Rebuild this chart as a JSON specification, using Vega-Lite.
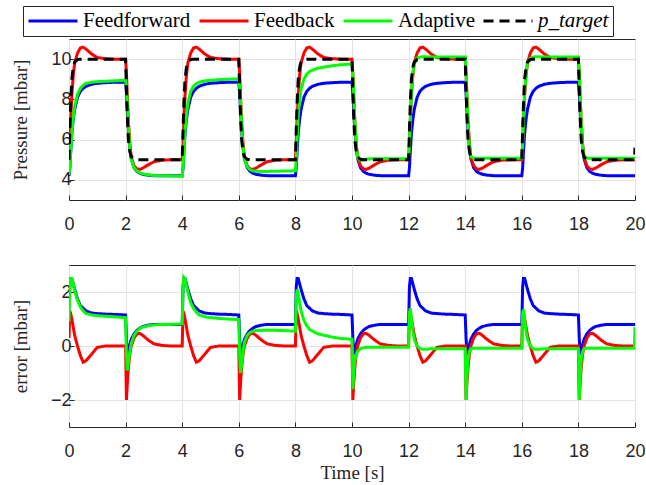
{
"$schema": "https://vega.github.io/schema/vega-lite/v6.json",
"padding": {"left": 10, "top": 5, "right": 0, "bottom": 0},
"bounds": "flush",
"spacing": 65,
"background": "white",
"config": {
 "view": {"stroke": "#262626", "strokeWidth": 1},
 "axis": {"grid": true, "gridColor": "#e3e3e3", "gridWidth": 1, "domain": false, "tickColor": "#262626", "tickSize": -5, "labelFont": "Liberation Sans", "labelFontSize": 18, "labelColor": "#262626", "titleFont": "Liberation Serif", "titleFontSize": 19, "titleFontWeight": "normal", "titleColor": "#262626"},
 "axisX": {"labelPadding": 20, "titlePadding": 3, "labelFlush": false},
 "axisY": {"labelPadding": 3, "titlePadding": 20},
 "legend": {"orient": "none", "legendX": -46, "legendY": -33, "direction": "horizontal", "strokeColor": "#262626", "fillColor": "white", "padding": 4, "symbolType": "stroke", "symbolSize": 2401, "clipHeight": 22, "symbolStrokeWidth": 2, "labelFont": "Liberation Serif", "labelFontSize": 21, "labelColor": "#000000", "columnPadding": 7, "labelOffset": 4, "title": null}
},
"datasets": {
"press": [
{"t":0,"FF":4.2,"FB":5.0,"AD":4.25,"PT":5.0},
{"t":0.03,"FF":4.6,"FB":5.8,"AD":4.6,"PT":6.5},
{"t":0.06,"FF":5.4,"FB":7.0,"AD":5.4,"PT":7.8},
{"t":0.1,"FF":6.3,"FB":8.2,"AD":6.3,"PT":9.0},
{"t":0.15,"FF":7.0,"FB":9.2,"AD":7.1,"PT":9.6},
{"t":0.2,"FF":7.5,"FB":9.8,"AD":7.65,"PT":9.85},
{"t":0.3,"FF":8.1,"FB":10.3,"AD":8.25,"PT":9.98},
{"t":0.4,"FF":8.4,"FB":10.55,"AD":8.55,"PT":10},
{"t":0.5,"FF":8.55,"FB":10.6,"AD":8.7,"PT":10},
{"t":0.6,"FF":8.65,"FB":10.5,"AD":8.8,"PT":10},
{"t":0.8,"FF":8.75,"FB":10.25,"AD":8.85,"PT":10},
{"t":1.0,"FF":8.8,"FB":10.08,"AD":8.88,"PT":10},
{"t":1.3,"FF":8.83,"FB":10.02,"AD":8.9,"PT":10},
{"t":1.6,"FF":8.85,"FB":10.0,"AD":8.92,"PT":10},
{"t":1.98,"FF":8.85,"FB":10.0,"AD":8.95,"PT":10},
{"t":2,"FF":8.85,"FB":10.0,"AD":8.95,"PT":10},
{"t":2.03,"FF":8.3,"FB":9.3,"AD":8.6,"PT":8.5},
{"t":2.06,"FF":7.5,"FB":8.2,"AD":7.9,"PT":7.2},
{"t":2.1,"FF":6.5,"FB":6.9,"AD":6.7,"PT":6.0},
{"t":2.15,"FF":5.6,"FB":5.8,"AD":5.6,"PT":5.4},
{"t":2.2,"FF":5.05,"FB":5.1,"AD":5.0,"PT":5.15},
{"t":2.3,"FF":4.6,"FB":4.7,"AD":4.6,"PT":5.02},
{"t":2.4,"FF":4.42,"FB":4.55,"AD":4.45,"PT":5},
{"t":2.5,"FF":4.33,"FB":4.52,"AD":4.35,"PT":5},
{"t":2.6,"FF":4.28,"FB":4.58,"AD":4.3,"PT":5},
{"t":2.8,"FF":4.23,"FB":4.75,"AD":4.25,"PT":5},
{"t":3.0,"FF":4.21,"FB":4.9,"AD":4.22,"PT":5},
{"t":3.3,"FF":4.2,"FB":4.98,"AD":4.2,"PT":5},
{"t":3.6,"FF":4.2,"FB":5.0,"AD":4.2,"PT":5},
{"t":3.98,"FF":4.2,"FB":5.0,"AD":4.18,"PT":5},
{"t":4,"FF":4.2,"FB":5.0,"AD":4.18,"PT":5.0},
{"t":4.03,"FF":4.6,"FB":5.8,"AD":4.6,"PT":6.5},
{"t":4.06,"FF":5.4,"FB":7.0,"AD":5.4,"PT":7.8},
{"t":4.1,"FF":6.3,"FB":8.2,"AD":6.4,"PT":9.0},
{"t":4.15,"FF":7.0,"FB":9.2,"AD":7.2,"PT":9.6},
{"t":4.2,"FF":7.5,"FB":9.8,"AD":7.8,"PT":9.85},
{"t":4.3,"FF":8.1,"FB":10.3,"AD":8.4,"PT":9.98},
{"t":4.4,"FF":8.4,"FB":10.55,"AD":8.65,"PT":10},
{"t":4.5,"FF":8.55,"FB":10.6,"AD":8.78,"PT":10},
{"t":4.6,"FF":8.65,"FB":10.5,"AD":8.85,"PT":10},
{"t":4.8,"FF":8.75,"FB":10.25,"AD":8.92,"PT":10},
{"t":5.0,"FF":8.8,"FB":10.08,"AD":8.95,"PT":10},
{"t":5.3,"FF":8.83,"FB":10.02,"AD":8.98,"PT":10},
{"t":5.6,"FF":8.85,"FB":10.0,"AD":9.0,"PT":10},
{"t":5.98,"FF":8.85,"FB":10.0,"AD":9.02,"PT":10},
{"t":6,"FF":8.85,"FB":10.0,"AD":9.02,"PT":10},
{"t":6.03,"FF":8.3,"FB":9.3,"AD":8.6,"PT":8.5},
{"t":6.06,"FF":7.5,"FB":8.2,"AD":7.9,"PT":7.2},
{"t":6.1,"FF":6.5,"FB":6.9,"AD":6.7,"PT":6.0},
{"t":6.15,"FF":5.6,"FB":5.8,"AD":5.6,"PT":5.4},
{"t":6.2,"FF":5.05,"FB":5.1,"AD":5.0,"PT":5.15},
{"t":6.3,"FF":4.6,"FB":4.7,"AD":4.65,"PT":5.02},
{"t":6.4,"FF":4.42,"FB":4.55,"AD":4.5,"PT":5},
{"t":6.5,"FF":4.33,"FB":4.52,"AD":4.45,"PT":5},
{"t":6.6,"FF":4.28,"FB":4.58,"AD":4.43,"PT":5},
{"t":6.8,"FF":4.23,"FB":4.75,"AD":4.42,"PT":5},
{"t":7.0,"FF":4.21,"FB":4.9,"AD":4.42,"PT":5},
{"t":7.3,"FF":4.2,"FB":4.98,"AD":4.43,"PT":5},
{"t":7.6,"FF":4.2,"FB":5.0,"AD":4.44,"PT":5},
{"t":7.98,"FF":4.2,"FB":5.0,"AD":4.45,"PT":5},
{"t":8,"FF":4.2,"FB":5.0,"AD":4.45,"PT":5.0},
{"t":8.03,"FF":4.6,"FB":5.8,"AD":5.0,"PT":6.5},
{"t":8.06,"FF":5.4,"FB":7.0,"AD":6.0,"PT":7.8},
{"t":8.1,"FF":6.3,"FB":8.2,"AD":7.2,"PT":9.0},
{"t":8.15,"FF":7.0,"FB":9.2,"AD":8.0,"PT":9.6},
{"t":8.2,"FF":7.5,"FB":9.8,"AD":8.5,"PT":9.85},
{"t":8.3,"FF":8.1,"FB":10.3,"AD":9.0,"PT":9.98},
{"t":8.4,"FF":8.4,"FB":10.55,"AD":9.25,"PT":10},
{"t":8.5,"FF":8.55,"FB":10.6,"AD":9.38,"PT":10},
{"t":8.6,"FF":8.65,"FB":10.5,"AD":9.45,"PT":10},
{"t":8.8,"FF":8.75,"FB":10.25,"AD":9.55,"PT":10},
{"t":9.0,"FF":8.8,"FB":10.08,"AD":9.6,"PT":10},
{"t":9.3,"FF":8.83,"FB":10.02,"AD":9.67,"PT":10},
{"t":9.6,"FF":8.85,"FB":10.0,"AD":9.72,"PT":10},
{"t":9.98,"FF":8.85,"FB":10.0,"AD":9.75,"PT":10},
{"t":10,"FF":8.85,"FB":10.0,"AD":9.75,"PT":10},
{"t":10.03,"FF":8.3,"FB":9.3,"AD":9.2,"PT":8.5},
{"t":10.06,"FF":7.5,"FB":8.2,"AD":8.3,"PT":7.2},
{"t":10.1,"FF":6.5,"FB":6.9,"AD":6.9,"PT":6.0},
{"t":10.15,"FF":5.6,"FB":5.8,"AD":5.7,"PT":5.4},
{"t":10.2,"FF":5.05,"FB":5.1,"AD":5.1,"PT":5.15},
{"t":10.3,"FF":4.6,"FB":4.7,"AD":4.95,"PT":5.02},
{"t":10.4,"FF":4.42,"FB":4.55,"AD":5.0,"PT":5},
{"t":10.5,"FF":4.33,"FB":4.52,"AD":5.03,"PT":5},
{"t":10.6,"FF":4.28,"FB":4.58,"AD":5.04,"PT":5},
{"t":10.8,"FF":4.23,"FB":4.75,"AD":5.05,"PT":5},
{"t":11.0,"FF":4.21,"FB":4.9,"AD":5.05,"PT":5},
{"t":11.3,"FF":4.2,"FB":4.98,"AD":5.05,"PT":5},
{"t":11.6,"FF":4.2,"FB":5.0,"AD":5.05,"PT":5},
{"t":11.98,"FF":4.2,"FB":5.0,"AD":5.05,"PT":5},
{"t":12,"FF":4.2,"FB":5.0,"AD":5.05,"PT":5.0},
{"t":12.03,"FF":4.6,"FB":5.8,"AD":5.8,"PT":6.5},
{"t":12.06,"FF":5.4,"FB":7.0,"AD":7.0,"PT":7.8},
{"t":12.1,"FF":6.3,"FB":8.2,"AD":8.3,"PT":9.0},
{"t":12.15,"FF":7.0,"FB":9.2,"AD":9.3,"PT":9.6},
{"t":12.2,"FF":7.5,"FB":9.8,"AD":9.8,"PT":9.85},
{"t":12.3,"FF":8.1,"FB":10.3,"AD":10.05,"PT":9.98},
{"t":12.4,"FF":8.4,"FB":10.55,"AD":10.1,"PT":10},
{"t":12.5,"FF":8.55,"FB":10.6,"AD":10.12,"PT":10},
{"t":12.6,"FF":8.65,"FB":10.5,"AD":10.12,"PT":10},
{"t":12.8,"FF":8.75,"FB":10.25,"AD":10.1,"PT":10},
{"t":13.0,"FF":8.8,"FB":10.08,"AD":10.1,"PT":10},
{"t":13.3,"FF":8.83,"FB":10.02,"AD":10.1,"PT":10},
{"t":13.6,"FF":8.85,"FB":10.0,"AD":10.1,"PT":10},
{"t":13.98,"FF":8.85,"FB":10.0,"AD":10.1,"PT":10},
{"t":14,"FF":8.85,"FB":10.0,"AD":10.1,"PT":10},
{"t":14.03,"FF":8.3,"FB":9.3,"AD":9.4,"PT":8.5},
{"t":14.06,"FF":7.5,"FB":8.2,"AD":8.2,"PT":7.2},
{"t":14.1,"FF":6.5,"FB":6.9,"AD":6.8,"PT":6.0},
{"t":14.15,"FF":5.6,"FB":5.8,"AD":5.6,"PT":5.4},
{"t":14.2,"FF":5.05,"FB":5.1,"AD":5.15,"PT":5.15},
{"t":14.3,"FF":4.6,"FB":4.7,"AD":5.08,"PT":5.02},
{"t":14.4,"FF":4.42,"FB":4.55,"AD":5.08,"PT":5},
{"t":14.5,"FF":4.33,"FB":4.52,"AD":5.08,"PT":5},
{"t":14.6,"FF":4.28,"FB":4.58,"AD":5.08,"PT":5},
{"t":14.8,"FF":4.23,"FB":4.75,"AD":5.08,"PT":5},
{"t":15.0,"FF":4.21,"FB":4.9,"AD":5.08,"PT":5},
{"t":15.3,"FF":4.2,"FB":4.98,"AD":5.08,"PT":5},
{"t":15.6,"FF":4.2,"FB":5.0,"AD":5.08,"PT":5},
{"t":15.98,"FF":4.2,"FB":5.0,"AD":5.08,"PT":5},
{"t":16,"FF":4.2,"FB":5.0,"AD":5.08,"PT":5.0},
{"t":16.03,"FF":4.6,"FB":5.8,"AD":5.8,"PT":6.5},
{"t":16.06,"FF":5.4,"FB":7.0,"AD":7.0,"PT":7.8},
{"t":16.1,"FF":6.3,"FB":8.2,"AD":8.3,"PT":9.0},
{"t":16.15,"FF":7.0,"FB":9.2,"AD":9.3,"PT":9.6},
{"t":16.2,"FF":7.5,"FB":9.8,"AD":9.8,"PT":9.85},
{"t":16.3,"FF":8.1,"FB":10.3,"AD":10.05,"PT":9.98},
{"t":16.4,"FF":8.4,"FB":10.55,"AD":10.1,"PT":10},
{"t":16.5,"FF":8.55,"FB":10.6,"AD":10.12,"PT":10},
{"t":16.6,"FF":8.65,"FB":10.5,"AD":10.12,"PT":10},
{"t":16.8,"FF":8.75,"FB":10.25,"AD":10.1,"PT":10},
{"t":17.0,"FF":8.8,"FB":10.08,"AD":10.1,"PT":10},
{"t":17.3,"FF":8.83,"FB":10.02,"AD":10.1,"PT":10},
{"t":17.6,"FF":8.85,"FB":10.0,"AD":10.1,"PT":10},
{"t":17.98,"FF":8.85,"FB":10.0,"AD":10.1,"PT":10},
{"t":18,"FF":8.85,"FB":10.0,"AD":10.1,"PT":10},
{"t":18.03,"FF":8.3,"FB":9.3,"AD":9.4,"PT":8.5},
{"t":18.06,"FF":7.5,"FB":8.2,"AD":8.2,"PT":7.2},
{"t":18.1,"FF":6.5,"FB":6.9,"AD":6.8,"PT":6.0},
{"t":18.15,"FF":5.6,"FB":5.8,"AD":5.6,"PT":5.4},
{"t":18.2,"FF":5.05,"FB":5.1,"AD":5.15,"PT":5.15},
{"t":18.3,"FF":4.6,"FB":4.7,"AD":5.08,"PT":5.02},
{"t":18.4,"FF":4.42,"FB":4.55,"AD":5.08,"PT":5},
{"t":18.5,"FF":4.33,"FB":4.52,"AD":5.08,"PT":5},
{"t":18.6,"FF":4.28,"FB":4.58,"AD":5.08,"PT":5},
{"t":18.8,"FF":4.23,"FB":4.75,"AD":5.08,"PT":5},
{"t":19.0,"FF":4.21,"FB":4.9,"AD":5.08,"PT":5},
{"t":19.3,"FF":4.2,"FB":4.98,"AD":5.08,"PT":5},
{"t":19.6,"FF":4.2,"FB":5.0,"AD":5.08,"PT":5},
{"t":19.98,"FF":4.2,"FB":5.0,"AD":5.08,"PT":5},
{"t":20,"FF":4.2,"FB":5.0,"AD":5.08,"PT":5.6}
],
"err": [
{"t":0,"FF":1.5,"FB":0.3,"AD":0.9},
{"t":0.03,"FF":2.2,"FB":1.3,"AD":2.2},
{"t":0.06,"FF":2.5,"FB":1.2,"AD":2.5},
{"t":0.1,"FF":2.5,"FB":1.0,"AD":2.5},
{"t":0.15,"FF":2.3,"FB":0.7,"AD":2.3},
{"t":0.2,"FF":2.1,"FB":0.4,"AD":2.05},
{"t":0.3,"FF":1.75,"FB":0.0,"AD":1.7},
{"t":0.4,"FF":1.5,"FB":-0.35,"AD":1.45},
{"t":0.5,"FF":1.4,"FB":-0.6,"AD":1.3},
{"t":0.6,"FF":1.3,"FB":-0.55,"AD":1.2},
{"t":0.8,"FF":1.22,"FB":-0.3,"AD":1.15},
{"t":1.0,"FF":1.2,"FB":-0.05,"AD":1.12},
{"t":1.3,"FF":1.18,"FB":0,"AD":1.1},
{"t":1.6,"FF":1.17,"FB":0,"AD":1.08},
{"t":1.98,"FF":1.15,"FB":0,"AD":1.05},
{"t":2,"FF":1.15,"FB":0,"AD":1.05},
{"t":2.03,"FF":0.3,"FB":-2.0,"AD":-0.3},
{"t":2.06,"FF":-0.3,"FB":-1.4,"AD":-0.9},
{"t":2.1,"FF":-0.2,"FB":-0.8,"AD":-0.6},
{"t":2.15,"FF":0.05,"FB":-0.3,"AD":-0.2},
{"t":2.2,"FF":0.25,"FB":0.0,"AD":0.1},
{"t":2.3,"FF":0.45,"FB":0.3,"AD":0.4},
{"t":2.4,"FF":0.58,"FB":0.45,"AD":0.55},
{"t":2.5,"FF":0.66,"FB":0.47,"AD":0.65},
{"t":2.6,"FF":0.72,"FB":0.4,"AD":0.7},
{"t":2.8,"FF":0.77,"FB":0.22,"AD":0.75},
{"t":3.0,"FF":0.8,"FB":0.08,"AD":0.78},
{"t":3.3,"FF":0.8,"FB":0.02,"AD":0.8},
{"t":3.6,"FF":0.8,"FB":0,"AD":0.8},
{"t":3.98,"FF":0.8,"FB":0,"AD":0.82},
{"t":4,"FF":0.8,"FB":0,"AD":0.82},
{"t":4.03,"FF":2.2,"FB":1.3,"AD":2.2},
{"t":4.06,"FF":2.5,"FB":1.2,"AD":2.55},
{"t":4.1,"FF":2.5,"FB":1.0,"AD":2.5},
{"t":4.15,"FF":2.3,"FB":0.7,"AD":2.25},
{"t":4.2,"FF":2.1,"FB":0.4,"AD":2.0},
{"t":4.3,"FF":1.75,"FB":0.0,"AD":1.6},
{"t":4.4,"FF":1.5,"FB":-0.35,"AD":1.4},
{"t":4.5,"FF":1.4,"FB":-0.6,"AD":1.25},
{"t":4.6,"FF":1.3,"FB":-0.55,"AD":1.15},
{"t":4.8,"FF":1.22,"FB":-0.3,"AD":1.08},
{"t":5.0,"FF":1.2,"FB":-0.05,"AD":1.05},
{"t":5.3,"FF":1.18,"FB":0,"AD":1.02},
{"t":5.6,"FF":1.17,"FB":0,"AD":1.0},
{"t":5.98,"FF":1.15,"FB":0,"AD":0.98},
{"t":6,"FF":1.15,"FB":0,"AD":0.98},
{"t":6.03,"FF":0.3,"FB":-2.0,"AD":-0.3},
{"t":6.06,"FF":-0.3,"FB":-1.4,"AD":-1.0},
{"t":6.1,"FF":-0.2,"FB":-0.8,"AD":-0.7},
{"t":6.15,"FF":0.05,"FB":-0.3,"AD":-0.2},
{"t":6.2,"FF":0.25,"FB":0.0,"AD":0.15},
{"t":6.3,"FF":0.45,"FB":0.3,"AD":0.4},
{"t":6.4,"FF":0.58,"FB":0.45,"AD":0.5},
{"t":6.5,"FF":0.66,"FB":0.47,"AD":0.55},
{"t":6.6,"FF":0.72,"FB":0.4,"AD":0.57},
{"t":6.8,"FF":0.77,"FB":0.22,"AD":0.58},
{"t":7.0,"FF":0.8,"FB":0.08,"AD":0.58},
{"t":7.3,"FF":0.8,"FB":0.02,"AD":0.58},
{"t":7.6,"FF":0.8,"FB":0,"AD":0.57},
{"t":7.98,"FF":0.8,"FB":0,"AD":0.55},
{"t":8,"FF":0.8,"FB":0,"AD":0.55},
{"t":8.03,"FF":2.2,"FB":1.3,"AD":1.8},
{"t":8.06,"FF":2.5,"FB":1.2,"AD":2.1},
{"t":8.1,"FF":2.5,"FB":1.0,"AD":1.95},
{"t":8.15,"FF":2.3,"FB":0.7,"AD":1.6},
{"t":8.2,"FF":2.1,"FB":0.4,"AD":1.3},
{"t":8.3,"FF":1.75,"FB":0.0,"AD":0.95},
{"t":8.4,"FF":1.5,"FB":-0.35,"AD":0.75},
{"t":8.5,"FF":1.4,"FB":-0.6,"AD":0.62},
{"t":8.6,"FF":1.3,"FB":-0.55,"AD":0.55},
{"t":8.8,"FF":1.22,"FB":-0.3,"AD":0.45},
{"t":9.0,"FF":1.2,"FB":-0.05,"AD":0.4},
{"t":9.3,"FF":1.18,"FB":0,"AD":0.33},
{"t":9.6,"FF":1.17,"FB":0,"AD":0.28},
{"t":9.98,"FF":1.15,"FB":0,"AD":0.25},
{"t":10,"FF":1.15,"FB":0,"AD":0.25},
{"t":10.03,"FF":0.3,"FB":-2.0,"AD":-1.6},
{"t":10.06,"FF":-0.3,"FB":-1.4,"AD":-1.0},
{"t":10.1,"FF":-0.2,"FB":-0.8,"AD":-0.55},
{"t":10.15,"FF":0.05,"FB":-0.3,"AD":-0.3},
{"t":10.2,"FF":0.25,"FB":0.0,"AD":-0.2},
{"t":10.3,"FF":0.45,"FB":0.3,"AD":-0.1},
{"t":10.4,"FF":0.58,"FB":0.45,"AD":-0.07},
{"t":10.5,"FF":0.66,"FB":0.47,"AD":-0.05},
{"t":10.6,"FF":0.72,"FB":0.4,"AD":-0.05},
{"t":10.8,"FF":0.77,"FB":0.22,"AD":-0.05},
{"t":11.0,"FF":0.8,"FB":0.08,"AD":-0.05},
{"t":11.3,"FF":0.8,"FB":0.02,"AD":-0.05},
{"t":11.6,"FF":0.8,"FB":0,"AD":-0.05},
{"t":11.98,"FF":0.8,"FB":0,"AD":-0.05},
{"t":12,"FF":0.8,"FB":0,"AD":-0.05},
{"t":12.03,"FF":2.2,"FB":1.3,"AD":1.2},
{"t":12.06,"FF":2.5,"FB":1.2,"AD":1.4},
{"t":12.1,"FF":2.5,"FB":1.0,"AD":1.0},
{"t":12.15,"FF":2.3,"FB":0.7,"AD":0.55},
{"t":12.2,"FF":2.1,"FB":0.4,"AD":0.25},
{"t":12.3,"FF":1.75,"FB":0.0,"AD":0.0},
{"t":12.4,"FF":1.5,"FB":-0.35,"AD":-0.1},
{"t":12.5,"FF":1.4,"FB":-0.6,"AD":-0.12},
{"t":12.6,"FF":1.3,"FB":-0.55,"AD":-0.12},
{"t":12.8,"FF":1.22,"FB":-0.3,"AD":-0.1},
{"t":13.0,"FF":1.2,"FB":-0.05,"AD":-0.1},
{"t":13.3,"FF":1.18,"FB":0,"AD":-0.1},
{"t":13.6,"FF":1.17,"FB":0,"AD":-0.1},
{"t":13.98,"FF":1.15,"FB":0,"AD":-0.1},
{"t":14,"FF":1.15,"FB":0,"AD":-0.1},
{"t":14.03,"FF":0.3,"FB":-2.0,"AD":-2.0},
{"t":14.06,"FF":-0.3,"FB":-1.4,"AD":-1.2},
{"t":14.1,"FF":-0.2,"FB":-0.8,"AD":-0.5},
{"t":14.15,"FF":0.05,"FB":-0.3,"AD":-0.2},
{"t":14.2,"FF":0.25,"FB":0.0,"AD":-0.1},
{"t":14.3,"FF":0.45,"FB":0.3,"AD":-0.08},
{"t":14.4,"FF":0.58,"FB":0.45,"AD":-0.08},
{"t":14.5,"FF":0.66,"FB":0.47,"AD":-0.08},
{"t":14.6,"FF":0.72,"FB":0.4,"AD":-0.08},
{"t":14.8,"FF":0.77,"FB":0.22,"AD":-0.08},
{"t":15.0,"FF":0.8,"FB":0.08,"AD":-0.08},
{"t":15.3,"FF":0.8,"FB":0.02,"AD":-0.08},
{"t":15.6,"FF":0.8,"FB":0,"AD":-0.08},
{"t":15.98,"FF":0.8,"FB":0,"AD":-0.08},
{"t":16,"FF":0.8,"FB":0,"AD":-0.08},
{"t":16.03,"FF":2.2,"FB":1.3,"AD":1.2},
{"t":16.06,"FF":2.5,"FB":1.2,"AD":1.35},
{"t":16.1,"FF":2.5,"FB":1.0,"AD":1.0},
{"t":16.15,"FF":2.3,"FB":0.7,"AD":0.55},
{"t":16.2,"FF":2.1,"FB":0.4,"AD":0.25},
{"t":16.3,"FF":1.75,"FB":0.0,"AD":0.0},
{"t":16.4,"FF":1.5,"FB":-0.35,"AD":-0.1},
{"t":16.5,"FF":1.4,"FB":-0.6,"AD":-0.12},
{"t":16.6,"FF":1.3,"FB":-0.55,"AD":-0.12},
{"t":16.8,"FF":1.22,"FB":-0.3,"AD":-0.1},
{"t":17.0,"FF":1.2,"FB":-0.05,"AD":-0.1},
{"t":17.3,"FF":1.18,"FB":0,"AD":-0.1},
{"t":17.6,"FF":1.17,"FB":0,"AD":-0.1},
{"t":17.98,"FF":1.15,"FB":0,"AD":-0.1},
{"t":18,"FF":1.15,"FB":0,"AD":-0.1},
{"t":18.03,"FF":0.3,"FB":-2.0,"AD":-2.0},
{"t":18.06,"FF":-0.3,"FB":-1.4,"AD":-1.2},
{"t":18.1,"FF":-0.2,"FB":-0.8,"AD":-0.5},
{"t":18.15,"FF":0.05,"FB":-0.3,"AD":-0.2},
{"t":18.2,"FF":0.25,"FB":0.0,"AD":-0.1},
{"t":18.3,"FF":0.45,"FB":0.3,"AD":-0.08},
{"t":18.4,"FF":0.58,"FB":0.45,"AD":-0.08},
{"t":18.5,"FF":0.66,"FB":0.47,"AD":-0.08},
{"t":18.6,"FF":0.72,"FB":0.4,"AD":-0.08},
{"t":18.8,"FF":0.77,"FB":0.22,"AD":-0.08},
{"t":19.0,"FF":0.8,"FB":0.08,"AD":-0.08},
{"t":19.3,"FF":0.8,"FB":0.02,"AD":-0.08},
{"t":19.6,"FF":0.8,"FB":0,"AD":-0.08},
{"t":19.98,"FF":0.8,"FB":0,"AD":-0.08},
{"t":20,"FF":0.8,"FB":0,"AD":0.7}
]
},
"vconcat": [
{
 "width": 566, "height": 161,
 "data": {"name": "press"},
 "transform": [{"fold": ["FF","FB","AD","PT"], "as": ["s","v"]}],
 "mark": {"type": "line", "clip": true},
 "encoding": {
  "x": {"field": "t", "type": "quantitative", "scale": {"domain": [0,20], "nice": false}, "axis": {"title": null, "values": [0,2,4,6,8,10,12,14,16,18,20]}},
  "y": {"field": "v", "type": "quantitative", "scale": {"domain": [3,11], "nice": false, "zero": false}, "axis": {"title": "Pressure [mbar]", "values": [4,6,8,10]}},
  "color": {"field": "s", "type": "nominal", "scale": {"domain": ["FF","FB","AD","PT"], "range": ["#0000ff","#ff0000","#00ff00","#000000"]}, "legend": {"labelFont": "Liberation Serif", "labelExpr": "{'FF':'Feedforward','FB':'Feedback','AD':'Adaptive','PT':'p_target'}[datum.label]", "encode": {"labels": {"update": {"font": {"value": "Liberation Serif"}, "fontSize": {"value": 21}, "fontStyle": {"signal": "datum.value == 'PT' ? 'italic' : 'normal'"}}}}}},
  "strokeDash": {"field": "s", "type": "nominal", "scale": {"domain": ["FF","FB","AD","PT"], "range": [[1,0],[1,0],[1,0],[10,6]]}, "legend": {"labelFont": "Liberation Serif", "labelExpr": "{'FF':'Feedforward','FB':'Feedback','AD':'Adaptive','PT':'p_target'}[datum.label]", "encode": {"labels": {"update": {"font": {"value": "Liberation Serif"}, "fontSize": {"value": 21}, "fontStyle": {"signal": "datum.value == 'PT' ? 'italic' : 'normal'"}}}}}},
  "strokeWidth": {"field": "s", "type": "nominal", "scale": {"domain": ["FF","FB","AD","PT"], "range": [3,3,3,2]}, "legend": null}
 }
},
{
 "width": 566, "height": 162,
 "data": {"name": "err"},
 "transform": [{"fold": ["FF","FB","AD"], "as": ["s","v"]}],
 "mark": {"type": "line", "clip": true},
 "encoding": {
  "x": {"field": "t", "type": "quantitative", "scale": {"domain": [0,20], "nice": false}, "axis": {"title": "Time [s]", "values": [0,2,4,6,8,10,12,14,16,18,20]}},
  "y": {"field": "v", "type": "quantitative", "scale": {"domain": [-3,3], "nice": false, "zero": false}, "axis": {"title": "error [mbar]", "values": [-2,0,2]}},
  "color": {"field": "s", "type": "nominal", "scale": {"domain": ["FF","FB","AD","PT"], "range": ["#0000ff","#ff0000","#00ff00","#000000"]}, "legend": {"labelFont": "Liberation Serif", "labelExpr": "{'FF':'Feedforward','FB':'Feedback','AD':'Adaptive','PT':'p_target'}[datum.label]", "encode": {"labels": {"update": {"font": {"value": "Liberation Serif"}, "fontSize": {"value": 21}, "fontStyle": {"signal": "datum.value == 'PT' ? 'italic' : 'normal'"}}}}}},
  "strokeDash": {"field": "s", "type": "nominal", "scale": {"domain": ["FF","FB","AD","PT"], "range": [[1,0],[1,0],[1,0],[10,6]]}, "legend": {"labelFont": "Liberation Serif", "labelExpr": "{'FF':'Feedforward','FB':'Feedback','AD':'Adaptive','PT':'p_target'}[datum.label]", "encode": {"labels": {"update": {"font": {"value": "Liberation Serif"}, "fontSize": {"value": 21}, "fontStyle": {"signal": "datum.value == 'PT' ? 'italic' : 'normal'"}}}}}},
  "strokeWidth": {"field": "s", "type": "nominal", "scale": {"domain": ["FF","FB","AD","PT"], "range": [3,3,3,2]}, "legend": null}
 }
}
]
}
